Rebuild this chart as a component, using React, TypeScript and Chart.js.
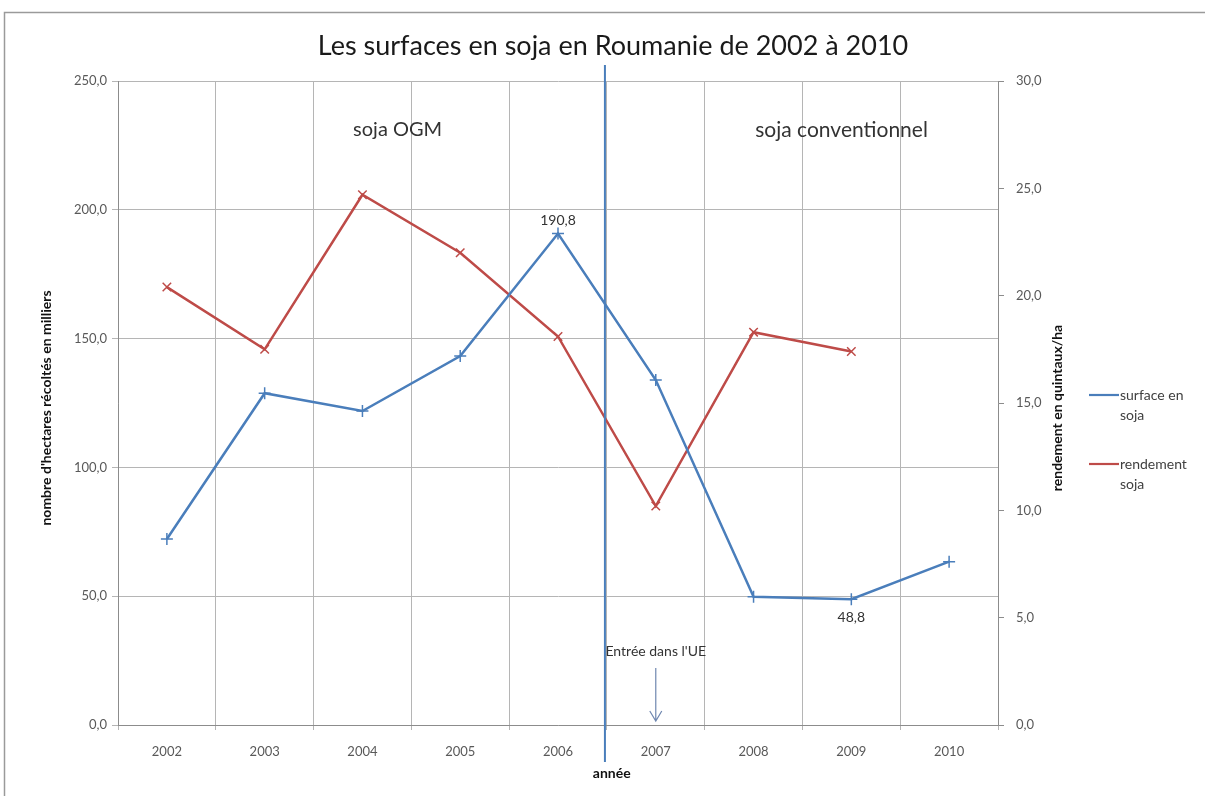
import React, { useEffect, useRef } from "react";
import { Chart, registerables } from "chart.js";

Chart.register(...registerables);

// ---------- data ----------
const years = ["2002", "2003", "2004", "2005", "2006", "2007", "2008", "2009", "2010"];
const surfaceSoja = [72.2, 128.8, 121.9, 143.2, 190.8, 133.9, 49.8, 48.8, 63.4];
const rendementSoja: (number | null)[] = [20.4, 17.5, 24.7, 22.0, 18.1, 10.2, 18.3, 17.4, null];
const leftAxisRange = [0, 250, 50];
const rightAxisRange = [0, 30, 5];
const labeledSurfacePoints = [4, 7]; // indices whose values are written next to the point
const labelSides = ["above", "below"];

const TITLE = "Les surfaces en soja en Roumanie de 2002 à 2010";
const LEFT_TITLE = "nombre d'hectares récoltés en milliers";
const RIGHT_TITLE = "rendement en quintaux/ha";
const X_TITLE = "année";
const SERIES_NAMES = [["surface en", "soja"], ["rendement", "soja"]];
const NOTE_OGM = "soja OGM";
const NOTE_CONV = "soja conventionnel";
const NOTE_UE = "Entrée dans l'UE";

const FONT = "Lato, 'Open Sans', sans-serif";
const BLUE = "#4a7ebb";
const RED = "#be4b48";
const GRID = "#b5b5b5";
const AXIS = "#8c8c8c";
const TICK_TXT = "#595959";

const fmt = (v: number) => v.toFixed(1).replace(".", ",");

const overlay = {
  id: "overlay",
  afterDraw(chart: any) {
    const ctx = chart.ctx as CanvasRenderingContext2D;
    const xs = chart.scales.x;
    const area = chart.chartArea;
    ctx.save();

    // outer frame
    ctx.strokeStyle = "#9a9a9a";
    ctx.lineWidth = 1.5;
    ctx.beginPath();
    ctx.moveTo(4.5, 796);
    ctx.lineTo(4.5, 12.5);
    ctx.lineTo(1205, 12.5);
    ctx.stroke();

    // title
    ctx.fillStyle = "#1a1a1a";
    ctx.textAlign = "center";
    ctx.textBaseline = "middle";
    ctx.font = `27px ${FONT}`;
    ctx.fillText(TITLE, 613, 46);

    // notes
    ctx.fillStyle = "#333333";
    ctx.font = `20px ${FONT}`;
    ctx.fillText(NOTE_OGM, xs.getPixelForValue(2.36), 130);
    ctx.font = `21px ${FONT}`;
    ctx.fillText(NOTE_CONV, xs.getPixelForValue(6.9), 130);

    // EU entry line
    const xl = xs.getPixelForValue(4.48);
    ctx.strokeStyle = BLUE;
    ctx.lineWidth = 2;
    ctx.beginPath();
    ctx.moveTo(xl, 65);
    ctx.lineTo(xl, 762);
    ctx.stroke();

    // arrow + text
    const xa = xs.getPixelForValue(5);
    ctx.font = `14px ${FONT}`;
    ctx.fillStyle = "#333333";
    ctx.fillText(NOTE_UE, xa, 651);
    ctx.strokeStyle = "#6f87b0";
    ctx.lineWidth = 1.2;
    ctx.beginPath();
    ctx.moveTo(xa, 668);
    ctx.lineTo(xa, 721);
    ctx.moveTo(xa - 6, 711);
    ctx.lineTo(xa, 721);
    ctx.lineTo(xa + 6, 711);
    ctx.stroke();

    // data labels
    const meta = chart.getDatasetMeta(0);
    ctx.font = `14px ${FONT}`;
    ctx.fillStyle = "#333333";
    labeledSurfacePoints.forEach((idx, k) => {
      const p = meta.data[idx];
      const dy = labelSides[k] === "above" ? -13 : 18;
      ctx.fillText(fmt(surfaceSoja[idx]), p.x, p.y + dy);
    });

    // axis titles
    ctx.fillStyle = "#111111";
    ctx.font = `bold 14px ${FONT}`;
    const cy = (area.top + area.bottom) / 2;
    ctx.save();
    ctx.translate(46, cy + 5);
    ctx.rotate(-Math.PI / 2);
    ctx.fillText(LEFT_TITLE, 0, 0);
    ctx.restore();
    ctx.save();
    ctx.translate(1057, cy + 5);
    ctx.rotate(-Math.PI / 2);
    ctx.fillText(RIGHT_TITLE, 0, 0);
    ctx.restore();
    ctx.fillText(X_TITLE, xs.getPixelForValue(4.55), 773);

    // legend
    const legendRows = [
      { color: BLUE, y: 395 },
      { color: RED, y: 464 },
    ];
    legendRows.forEach((r, i) => {
      ctx.strokeStyle = r.color;
      ctx.lineWidth = 2.2;
      ctx.beginPath();
      ctx.moveTo(1089, r.y);
      ctx.lineTo(1119, r.y);
      ctx.stroke();
      ctx.fillStyle = "#404040";
      ctx.font = `14px ${FONT}`;
      ctx.textAlign = "left";
      ctx.fillText(SERIES_NAMES[i][0], 1120, r.y);
      ctx.fillText(SERIES_NAMES[i][1], 1120, r.y + 20);
    });

    ctx.restore();
  },
};

export default function App() {
  const ref = useRef<HTMLCanvasElement>(null);
  useEffect(() => {
    if (!ref.current) return;
    const chart = new Chart(ref.current, {
      type: "line",
      data: {
        labels: years,
        datasets: [
          {
            label: "surface en soja",
            data: surfaceSoja,
            yAxisID: "y",
            borderColor: BLUE,
            backgroundColor: BLUE,
            borderWidth: 2.5,
            pointStyle: "cross",
            pointRadius: 6,
            pointBorderWidth: 1.5,
            tension: 0,
          },
          {
            label: "rendement soja",
            data: rendementSoja,
            yAxisID: "y1",
            borderColor: RED,
            backgroundColor: RED,
            borderWidth: 2.5,
            pointStyle: "crossRot",
            pointRadius: 6,
            pointBorderWidth: 1.5,
            tension: 0,
          },
        ],
      },
      options: {
        animation: false,
        responsive: false,
        layout: { padding: { top: 81, left: 0, right: 0, bottom: 0 } },
        plugins: { legend: { display: false }, title: { display: false }, tooltip: { enabled: false } },
        scales: {
          x: {
            offset: true,
            grid: { offset: true, color: GRID, tickLength: 5, lineWidth: 1 },
            border: { color: AXIS },
            ticks: { color: TICK_TXT, font: { family: FONT, size: 13 }, padding: 14, maxRotation: 0 },
            afterFit: (s: any) => { s.height = 71; },
          },
          y: {
            position: "left",
            min: leftAxisRange[0],
            max: leftAxisRange[1],
            ticks: { stepSize: leftAxisRange[2], color: TICK_TXT, font: { family: FONT, size: 13 }, padding: 5, callback: (v: any) => fmt(Number(v)) },
            grid: { color: GRID, tickLength: 6 },
            border: { color: AXIS },
            afterFit: (s: any) => { s.width = 118; },
          },
          y1: {
            position: "right",
            min: rightAxisRange[0],
            max: rightAxisRange[1],
            ticks: { stepSize: rightAxisRange[2], color: TICK_TXT, font: { family: FONT, size: 13 }, padding: 12, callback: (v: any) => fmt(Number(v)) },
            grid: { drawOnChartArea: false, color: AXIS, tickLength: 6 },
            border: { color: AXIS },
            afterFit: (s: any) => { s.width = 207; },
          },
        },
      },
      plugins: [overlay],
    });
    return () => chart.destroy();
  }, []);
  return (
    <div style={{ position: "fixed", left: 0, top: 0, width: 1205, height: 796, background: "#fff" }}>
      <canvas ref={ref} width={1205} height={796} style={{ width: 1205, height: 796 }} />
    </div>
  );
}
